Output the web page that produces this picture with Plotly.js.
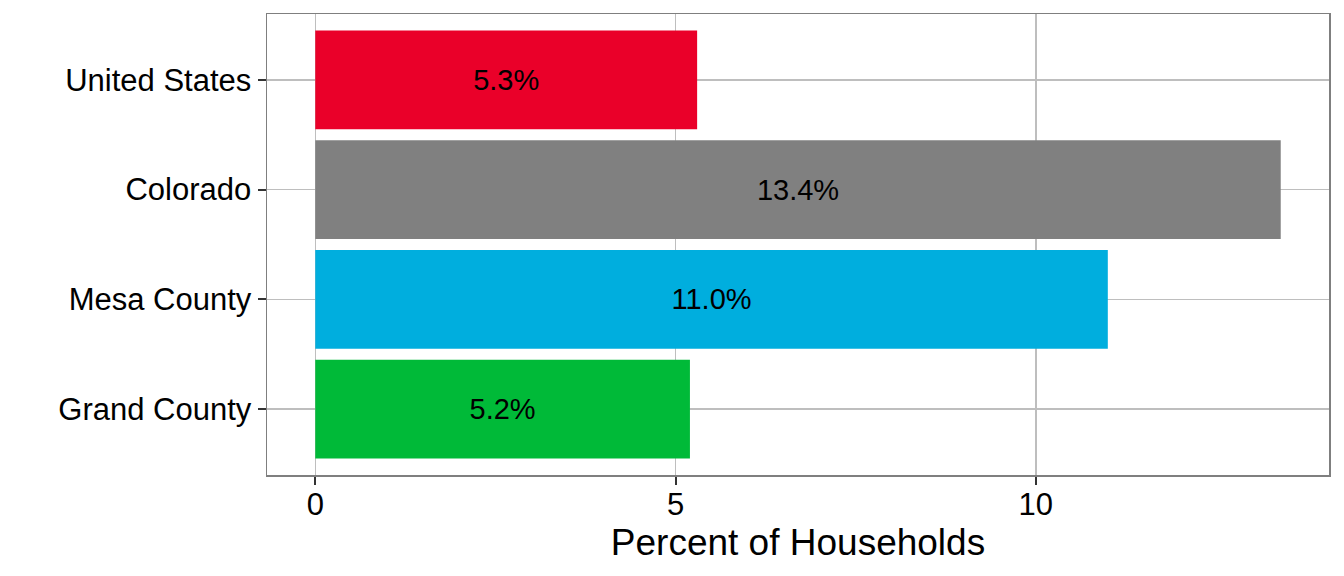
<!DOCTYPE html>
<html>
<head>
<meta charset="utf-8">
<script src="https://cdn.plot.ly/plotly-3.0.1.min.js"></script>
<style>html,body{margin:0;padding:0;background:#fff;}#chart{width:1344px;height:576px;}</style>
</head>
<body>
<div id="chart"></div>
<script>
// bottom-to-top order
const categories = ['Grand County', 'Mesa County', 'Colorado', 'United States'];
const percentValues = [5.2, 11.0, 13.4, 5.3];
const barColors = ['#00BA38', '#00AEDE', '#808080', '#EA0029'];
const xTickValues = [0, 5, 10];
const xTickLabels = ['0', '5', '10'];

const font = '"Liberation Sans", Arial, sans-serif';

const trace = {
  type: 'bar',
  orientation: 'h',
  y: categories,
  x: percentValues,
  width: 0.9,
  marker: {color: barColors, line: {width: 0}},
  text: percentValues.map(v => v.toFixed(1) + '%'),
  textposition: 'inside',
  insidetextanchor: 'middle',
  constraintext: 'none',
  textfont: {family: font, size: 29, color: '#000000'},
  hoverinfo: 'none'
};

const layout = {
  width: 1344,
  height: 576,
  margin: {l: 267, r: 15, t: 14, b: 101, pad: 0},
  paper_bgcolor: '#ffffff',
  plot_bgcolor: '#ffffff',
  showlegend: false,
  font: {family: font, color: '#000000'},
  xaxis: {
    range: [-0.67, 14.07],
    tickvals: xTickValues,
    ticktext: xTickLabels,
    tickfont: {family: font, size: 31, color: '#000000'},
    ticks: 'outside',
    ticklen: 8,
    tickwidth: 2,
    tickcolor: '#333333',
    ticklabelstandoff: -7,
    showgrid: true,
    gridcolor: '#BEBEBE',
    gridwidth: 1.5,
    zeroline: false,
    showline: true,
    linecolor: '#7F7F7F',
    linewidth: 1.5,
    mirror: true,
    title: {text: 'Percent of Households', font: {family: font, size: 37, color: '#000000'}, standoff: 0}
  },
  yaxis: {
    type: 'category',
    range: [-0.6, 3.6],
    tickfont: {family: font, size: 31, color: '#000000'},
    ticks: 'outside',
    ticklen: 8,
    tickwidth: 2,
    tickcolor: '#333333',
    showgrid: true,
    gridcolor: '#BEBEBE',
    gridwidth: 1.5,
    zeroline: false,
    showline: true,
    linecolor: '#7F7F7F',
    linewidth: 1.5,
    mirror: true
  }
};

Plotly.newPlot('chart', [trace], layout, {staticPlot: true, displayModeBar: false});
</script>
</body>
</html>
